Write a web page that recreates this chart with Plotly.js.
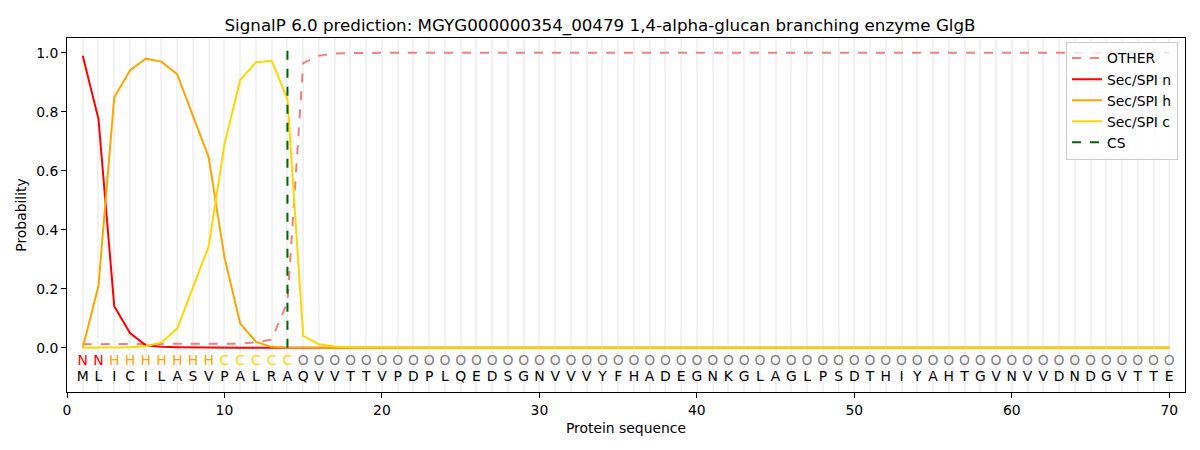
<!DOCTYPE html>
<html>
<head>
<meta charset="utf-8">
<script src="https://cdn.plot.ly/plotly-3.0.1.min.js"></script>
<style>body{margin:0;padding:0;background:#fff}#chart{width:1200px;height:450px}</style>
</head>
<body>
<div id="chart"></div>
<script>
const chartTitle = "SignalP 6.0 prediction: MGYG000000354_00479 1,4-alpha-glucan branching enzyme GlgB";
const sequence = ["M","L","I","C","I","L","A","S","V","P","A","L","R","A","Q","V","V","T","T","V","P","D","P","L","Q","E","D","S","G","N","V","V","V","Y","F","H","A","D","E","G","N","K","G","L","A","G","L","P","S","D","T","H","I","Y","A","H","T","G","V","N","V","V","D","N","D","G","V","T","T","E"];
const regionLabels = ["N","N","H","H","H","H","H","H","H","C","C","C","C","C","O","O","O","O","O","O","O","O","O","O","O","O","O","O","O","O","O","O","O","O","O","O","O","O","O","O","O","O","O","O","O","O","O","O","O","O","O","O","O","O","O","O","O","O","O","O","O","O","O","O","O","O","O","O","O","O"];
const positions = sequence.map((_, i) => i + 1);

const otherProb = [0.012,0.012,0.012,0.012,0.012,0.012,0.012,0.012,0.012,0.013,0.014,0.018,0.028,0.155,0.965,0.99,0.997,0.999,1,1,1,1,1,1,1,1,1,1,1,1,1,1,1,1,1,1,1,1,1,1,1,1,1,1,1,1,1,1,1,1,1,1,1,1,1,1,1,1,1,1,1,1,1,1,1,1,1,1,1,1];
const nProb = [0.99,0.775,0.141,0.05,0.008,0.003,0.002,0.001,0.001,0.001,0,0,0,0,0,0,0,0,0,0,0,0,0,0,0,0,0,0,0,0,0,0,0,0,0,0,0,0,0,0,0,0,0,0,0,0,0,0,0,0,0,0,0,0,0,0,0,0,0,0,0,0,0,0,0,0,0,0,0,0];
const hProb = [0.0,0.21,0.849,0.94,0.98,0.97,0.927,0.785,0.645,0.307,0.082,0.02,0.003,0.001,0,0,0,0,0,0,0,0,0,0,0,0,0,0,0,0,0,0,0,0,0,0,0,0,0,0,0,0,0,0,0,0,0,0,0,0,0,0,0,0,0,0,0,0,0,0,0,0,0,0,0,0,0,0,0,0];
const cProb = [0.0,0.0,0.001,0.002,0.005,0.018,0.065,0.206,0.344,0.69,0.908,0.968,0.973,0.843,0.04,0.012,0.004,0.002,0.001,0.001,0,0,0,0,0,0,0,0,0,0,0,0,0,0,0,0,0,0,0,0,0,0,0,0,0,0,0,0,0,0,0,0,0,0,0,0,0,0,0,0,0,0,0,0,0,0,0,0,0,0];
const csPosition = 14;
const csTop = 1.035;

const labelColors = {N: "#ff0000", H: "#ffa500", C: "#ffd700", O: "#808080"};
const font = "DejaVu Sans, sans-serif";
const fs = 13.9;

const traces = [
  {x: positions, y: positions.map(() => null), xaxis: "x2", yaxis: "y", mode: "lines", showlegend: false, hoverinfo: "skip"},
  {x: positions, y: otherProb, name: "OTHER", mode: "lines", line: {color: "#f08080", width: 2, dash: "dash"}},
  {x: positions, y: nProb, name: "Sec/SPI n", mode: "lines", line: {color: "#ff0000", width: 2}},
  {x: positions, y: hProb, name: "Sec/SPI h", mode: "lines", line: {color: "#ffa500", width: 2}},
  {x: positions, y: cProb, name: "Sec/SPI c", mode: "lines", line: {color: "#ffd700", width: 2}},
  {x: [csPosition, csPosition], y: [0, csTop], name: "CS", mode: "lines", line: {color: "#006400", width: 2, dash: "dash"}},
  {x: positions, y: positions.map(() => -0.046), text: regionLabels, mode: "text", showlegend: false, hoverinfo: "skip",
   textfont: {family: font, size: fs, color: regionLabels.map(l => labelColors[l])}, cliponaxis: false},
  {x: positions, y: positions.map(() => -0.1), text: sequence, mode: "text", showlegend: false, hoverinfo: "skip",
   textfont: {family: font, size: fs, color: "#000"}, cliponaxis: false}
];

const layout = {
  width: 1200, height: 450,
  margin: {l: 67, r: 15, t: 38, b: 58},
  paper_bgcolor: "#fff", plot_bgcolor: "#fff",
  font: {family: font, size: fs, color: "#000"},
  title: {text: chartTitle, font: {family: font, size: 16.7, color: "#000"}, x: 0.5, xanchor: "center", y: 0.944, yanchor: "middle"},
  xaxis: {range: [0, 71], tickvals: [0,10,20,30,40,50,60,70], showgrid: false, zeroline: false,
          showline: true, mirror: true, linecolor: "#000", linewidth: 1, ticks: "outside", ticklen: 5, tickcolor: "#000",
          tickfont: {family: font, size: fs},
          title: {text: "Protein sequence", font: {family: font, size: fs}, standoff: 6}},
  xaxis2: {range: [0, 71], overlaying: "x", tickvals: positions, showticklabels: false, ticks: "",
           showgrid: true, gridcolor: "#f2f2f2", gridwidth: 2, zeroline: false, showline: false},
  yaxis: {range: [-0.15, 1.05], tickvals: [0,0.2,0.4,0.6,0.8,1.0], tickformat: ".1f", showgrid: false, zeroline: false,
          showline: true, mirror: true, linecolor: "#000", linewidth: 1, ticks: "outside", ticklen: 5, tickcolor: "#000",
          tickfont: {family: font, size: fs},
          title: {text: "Probability", font: {family: font, size: fs}, standoff: 6}},
  legend: {x: 0.9937, y: 0.99, xanchor: "right", yanchor: "top", bgcolor: "rgba(255,255,255,0.8)",
           bordercolor: "#cccccc", borderwidth: 1, font: {family: font, size: fs}},
  showlegend: true
};

Plotly.newPlot("chart", traces, layout, {displayModeBar: false, staticPlot: true});
</script>
</body>
</html>
